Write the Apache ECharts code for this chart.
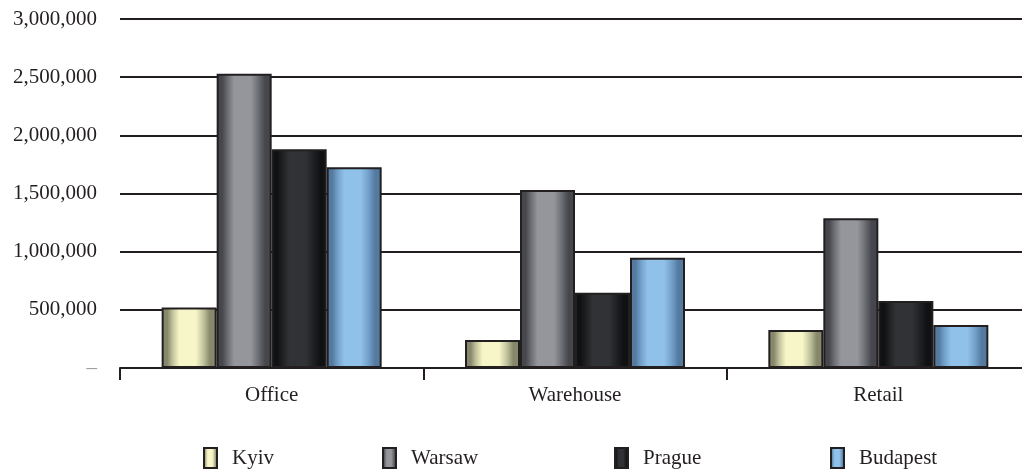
<!DOCTYPE html>
<html>
<head>
<meta charset="utf-8">
<script src="https://cdn.jsdelivr.net/npm/echarts@6/dist/echarts.min.js"></script>
<style>
  html, body { margin: 0; padding: 0; background: #ffffff; overflow: hidden; }
  /* plot area runs slightly past the right edge of the view */
  #chart { width: 1030px; height: 470px; }
</style>
</head>
<body>
<div id="chart"></div>
<script>
// Floor space by market segment (sq m)
const categories = ['Office', 'Warehouse', 'Retail'];
const cities = ['Kyiv', 'Warsaw', 'Prague', 'Budapest'];
const kyiv     = [520000, 241000, 327000];
const warsaw   = [2530000, 1530000, 1287000];
const prague   = [1880000, 647000, 576000];
const budapest = [1725000, 948000, 370000];
const yTicks = [0, 500000, 1000000, 1500000, 2000000, 2500000, 3000000];

// edge / mid / centre tones for the cylindrical shading of each city
const tones = {
  Kyiv:     ['#86876b', '#c2c39c', '#f6f6c8'],
  Warsaw:   ['#45474d', '#6c6d73', '#95969b'],
  Prague:   ['#101112', '#1f2022', '#303235'],
  Budapest: ['#557a9f', '#72a0cb', '#90c1e9']
};
const seriesValues = { Kyiv: kyiv, Warsaw: warsaw, Prague: prague, Budapest: budapest };

function shade(t) {
  return new echarts.graphic.LinearGradient(0, 0, 1, 0, [
    { offset: 0.00, color: t[0] },
    { offset: 0.10, color: t[0] },
    { offset: 0.20, color: t[1] },
    { offset: 0.32, color: t[2] },
    { offset: 0.62, color: t[2] },
    { offset: 0.76, color: t[1] },
    { offset: 0.88, color: t[0] },
    { offset: 1.00, color: t[0] }
  ]);
}

const font = 'Liberation Serif';
const fs = 21;
const legendLeft = [198, 377, 609, 825];

const chart = echarts.init(document.getElementById('chart'), null, { renderer: 'canvas' });
chart.setOption({
  animation: false,
  backgroundColor: '#ffffff',
  textStyle: { fontFamily: font },
  grid: { left: 120, top: 19, right: 0, bottom: 102, containLabel: false },
  legend: cities.map((c, i) => ({
    data: [c],
    left: legendLeft[i],
    top: 442,
    itemWidth: 13,
    itemHeight: 20,
    icon: 'rect',
    selectedMode: false,
    itemStyle: { borderColor: '#231f20', borderWidth: 2 },
    textStyle: { fontFamily: font, fontSize: fs, color: '#231f20', padding: [0, 0, 0, 10] }
  })),
  xAxis: {
    type: 'category',
    data: categories,
    axisLine: { show: true, lineStyle: { color: '#231f20', width: 2 } },
    axisTick: { show: true, length: 12, lineStyle: { color: '#231f20', width: 2 } },
    axisLabel: { fontFamily: font, fontSize: fs, color: '#231f20', margin: 17 },
    splitLine: { show: false }
  },
  yAxis: {
    type: 'value',
    min: yTicks[0],
    max: yTicks[yTicks.length - 1],
    interval: yTicks[1] - yTicks[0],
    axisLine: { show: false },
    axisTick: { show: false },
    axisLabel: {
      fontFamily: font, fontSize: fs, color: '#231f20', margin: 23,
      formatter: v => v === 0 ? '{z|–}' : v.toLocaleString('en-US'),
      rich: { z: { color: '#9a9a9a', fontFamily: font, fontSize: fs } }
    },
    splitLine: { show: true, lineStyle: { color: '#231f20', width: 2 } }
  },
  series: cities.map(c => ({
    name: c,
    type: 'bar',
    data: seriesValues[c],
    barWidth: 55,
    barGap: '0%',
    itemStyle: { color: shade(tones[c]), borderColor: '#231f20', borderWidth: 2 }
  }))
});
</script>
</body>
</html>
